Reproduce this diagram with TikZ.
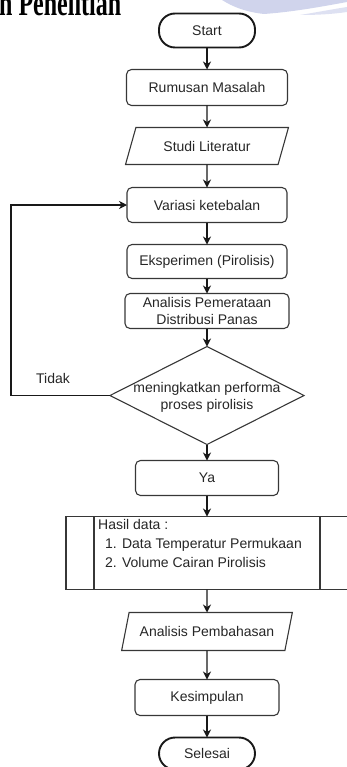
\documentclass[tikz,border=0pt]{standalone}
\usepackage{fontspec}
\setmainfont{Liberation Sans}
\newfontfamily\titlefont{Liberation Serif}
\usepackage{xcolor}
\usepackage{graphicx}
\usetikzlibrary{shapes.geometric, shapes.misc, arrows.meta, positioning, calc}
\definecolor{linegray}{RGB}{55,55,55}
\definecolor{wmark}{RGB}{208,212,236}

\begin{document}
\begin{tikzpicture}[
    x=1pt, y=-1pt,
    node distance=22pt,
    every node/.style={font=\fontsize{14}{17}\selectfont, text=black!85},
    proc/.style={rectangle, draw=linegray, line width=1.1pt, rounded corners=5pt, minimum width=160pt, minimum height=35pt, inner sep=2pt, outer sep=0pt},
    terminal/.style={rectangle, draw=black!90, line width=1.9pt, rounded corners=16pt, minimum width=96pt, minimum height=34pt, outer sep=0pt},
    io/.style={trapezium, trapezium left angle=62, trapezium right angle=118, trapezium stretches=true, draw=linegray, line width=1.1pt, minimum width=163pt, minimum height=37pt, inner sep=1pt, outer sep=0pt},
    decision/.style={diamond, draw=linegray, line width=1.1pt, minimum width=194pt, minimum height=98pt, inner sep=0pt, outer sep=0pt},
    arrow/.style={-{Stealth[length=8pt, width=8pt, inset=2.5pt]}, line width=1.1pt, draw=black!90},
]
    \useasboundingbox (0,0) rectangle (347,767);

    % watermark and page title (cut off)
    \fill[wmark] (222,0) -- (347,0) -- (347,2) .. controls (320,7) and (292,12) .. (264,14) .. controls (246,12) and (233,7) .. (222,0) -- cycle;
    \fill[wmark!70] (300,15) .. controls (318,12) and (334,9) .. (347,7) -- (347,12) .. controls (334,14) and (318,15) .. (300,15) -- cycle;
    \node[anchor=base west, inner sep=0pt, font=\titlefont\bfseries\fontsize{24}{26}\selectfont, text=black] (judul) at (-1,16) {\scalebox{1}[1.5]{n Penelitian}};

    \node[terminal] (start) at (207,30.5) {Start};
    \node[proc, minimum width=161pt, minimum height=36pt, below=22pt of start] (rumusan) {Rumusan Masalah};
    \node[io, below=22pt of rumusan] (studi) {Studi Literatur};
    \node[proc, below=23pt of studi] (variasi) {Variasi ketebalan};
    \node[proc, minimum height=34pt, below=22pt of variasi] (eksp) {Eksperimen (Pirolisis)};
    \node[proc, minimum width=164pt, align=center, below=15pt of eksp] (analisis) {Analisis Pemerataan\\Distribusi Panas};
    \node[decision, below=18pt of analisis, label={[align=center, yshift=-2pt]center:meningkatkan performa\\proses pirolisis}] (cek) {};
    \node[proc, minimum width=143pt, below=16pt of cek] (ya) {Ya};
    \node[rectangle, draw=linegray, line width=1.1pt, minimum width=282pt, minimum height=73pt, outer sep=0pt, below=21pt of ya] (hasil) {};
    \node[io, minimum width=171pt, minimum height=38pt, below=23pt of hasil] (bahas) {Analisis Pembahasan};
    \node[proc, minimum width=144pt, minimum height=36pt, below=29pt of bahas] (simpul) {Kesimpulan};
    \node[terminal, minimum height=32pt, below=22pt of simpul] (selesai) {Selesai};

    % predefined process sides and its text
    \draw[linegray, line width=1.1pt] ($(hasil.north west)+(28,0)$) -- ($(hasil.south west)+(28,0)$);
    \draw[linegray, line width=1.1pt] ($(hasil.north east)+(-28,0)$) -- ($(hasil.south east)+(-28,0)$);
    \node[anchor=north west, align=left, inner sep=0pt, font=\fontsize{14}{19}\selectfont] (hasiltxt) at ($(hasil.north west)+(32,3)$)
        {Hasil data :\\\hspace{7pt}1. Data Temperatur Permukaan\\\hspace{7pt}2. Volume Cairan Pirolisis};

    \node (tidak) at (53,378) {Tidak};

    \draw[arrow] (start) -- (rumusan);
    \draw[arrow] (rumusan) -- (studi);
    \draw[arrow] (studi) -- (variasi);
    \draw[arrow] (variasi) -- (eksp);
    \draw[arrow] (eksp) -- (analisis);
    \draw[arrow] (analisis) -- (cek);
    \draw[arrow] (cek) -- (ya);
    \draw[arrow] (ya) -- (hasil);
    \draw[arrow] (hasil) -- (bahas);
    \draw[arrow] (bahas) -- (simpul);
    \draw[arrow] (simpul) -- (selesai);
    \draw[arrow] (cek.west) -- ++(-99,0) |- (variasi.west);
\end{tikzpicture}
\end{document}
